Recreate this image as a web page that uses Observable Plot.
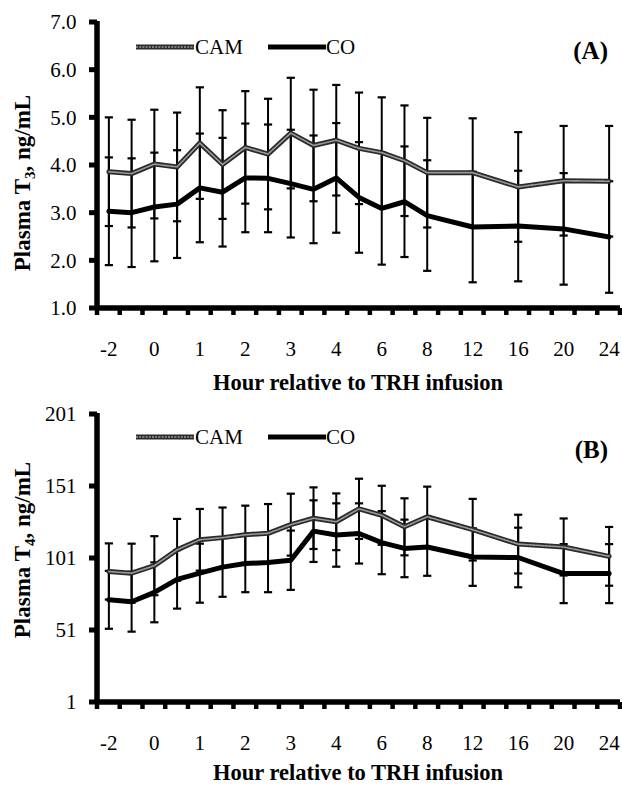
<!DOCTYPE html>
<html><head><meta charset="utf-8">
<script src="https://cdn.jsdelivr.net/npm/d3@7"></script>
<script src="https://cdn.jsdelivr.net/npm/@observablehq/plot@0.6"></script>
<style>
body{margin:0;background:#fff;}
#chart{width:622px;}
svg{display:block;overflow:visible;}
</style></head><body><div id="chart"></div>
<script>
// Category axis (hours relative to TRH infusion); every other category is labelled
const hours = ["-2","-1","0","0.5","1","1.5","2","2.5","3","3.5","4","5","6","7","8","10","12","14","16","18","20","22","24"];
const seriesNames = ["CAM", "CO"];

// Panel A: plasma T3 (ng/mL), mean and error (null = no sample)
const t3CAM    = [3.87,3.83,4.03,3.97,4.47,4.02,4.38,4.24,4.68,4.42,4.53,4.36,4.27,4.10,3.85,null,3.85,null,3.55,null,3.68,null,3.67];
const t3CO     = [3.04,3.01,3.13,3.19,3.53,3.44,3.74,3.73,3.62,3.50,3.74,3.33,3.10,3.24,2.95,null,2.71,null,2.73,null,2.67,null,2.50];
const t3CAMerr = [1.14,1.13,1.14,1.14,1.17,1.14,1.18,1.16,1.16,1.17,1.16,1.17,1.16,1.16,1.15,null,1.14,null,1.15,null,1.15,null,1.16];
const t3COerr  = [1.13,1.14,1.14,1.13,1.14,1.14,1.14,1.13,1.13,1.13,1.15,1.16,1.18,1.16,1.16,null,1.16,null,1.16,null,1.17,null,1.17];
const t3Ticks  = [1,2,3,4,5,6,7];

// Panel B: plasma T4 (ng/mL)
const t4CAM    = [92,90.8,96,107,114,115.5,117.5,118.5,124.5,129,126.5,135.5,131,123,130,null,121,null,111,null,109,null,102.5];
const t4CO     = [72.3,71,77.5,86.5,90.8,95,97.5,98.2,99.8,120,117.3,118.4,112,108,109,null,102,null,101.7,null,90.5,null,90.5];
const t4CAMerr = [19.5,20.5,20.5,21.5,21.4,20.9,20.2,20.3,21.5,21.4,19.7,20.9,20.5,19.8,20.9,null,21.4,null,20.4,null,19.8,null,20.4];
const t4COerr  = [20.1,20.8,20.8,20.3,20.5,20.6,19.9,20.6,20.6,21.4,22,20.9,21.9,20,20,null,20,null,20.7,null,20.5,null,20.5];
const t4Ticks  = [1,51,101,151,201];

const FONT = "'Liberation Serif','Times New Roman',serif";

function panel(cfg) {
  const rows = hours.map((h, i) => ({i, h, cam: cfg.cam[i], co: cfg.co[i], camErr: cfg.camErr[i], coErr: cfg.coErr[i]}))
                    .filter(d => d.cam != null);
  const bars = rows.flatMap(d => [{i: d.i, y: d.cam, e: d.camErr}, {i: d.i, y: d.co, e: d.coErr}]);
  const cap = 0.18;
  const y0 = cfg.ticks[0], y1 = cfg.ticks[cfg.ticks.length - 1];
  const xl = -0.5, xr = hours.length - 0.5;
  const chart = Plot.plot({
    width: 622, height: cfg.height,
    marginLeft: 97, marginRight: 2, marginTop: cfg.marginTop, marginBottom: cfg.marginBottom,
    style: {fontFamily: FONT, fontSize: "21px", color: "#000", background: "#fff", overflow: "visible"},
    x: {type: "linear", domain: [xl, xr]},
    y: {domain: [y0, y1]},
    marks: [
      // error bars
      Plot.link(bars, {x1: "i", x2: "i", y1: d => d.y - d.e, y2: d => d.y + d.e, stroke: "#000", strokeWidth: 2}),
      Plot.link(bars, {y1: d => d.y + d.e, y2: d => d.y + d.e, x1: d => d.i - cap, x2: d => d.i + cap, stroke: "#000", strokeWidth: 2.2}),
      Plot.link(bars, {y1: d => d.y - d.e, y2: d => d.y - d.e, x1: d => d.i - cap, x2: d => d.i + cap, stroke: "#000", strokeWidth: 2.2}),
      // series lines
      Plot.line(rows, {x: "i", y: "co", stroke: "#000", strokeWidth: 5, strokeLinejoin: "round"}),
      Plot.line(rows, {x: "i", y: "cam", stroke: "#2a2a2a", strokeWidth: 5, strokeLinejoin: "round"}),
      Plot.line(rows, {x: "i", y: "cam", stroke: "#9a9a9a", strokeWidth: 1.6, strokeDasharray: "2 1.2"}),
      Plot.axisY({ticks: cfg.ticks, tickFormat: cfg.format, tickSize: 0, tickPadding: 21, label: null}),
      Plot.axisX({ticks: d3.range(0, hours.length, 2), tickSize: 0, tickPadding: 33, tickFormat: i => hours[i], label: null})
    ]
  });
  const svg = d3.select(chart);
  const xs = chart.scale("x"), ys = chart.scale("y");
  // heavy axis lines and short outward ticks, positioned through the plot's scales
  const ax = svg.append("g").attr("stroke", "#000");
  const px0 = xs.apply(xl), px1 = xs.apply(xr), py0 = ys.apply(y0), py1 = ys.apply(y1);
  ax.append("line").attr("x1", px0).attr("x2", px0).attr("y1", py0 + 2).attr("y2", py1 - 1).attr("stroke-width", 5.5);
  ax.append("line").attr("x1", px0 - 2).attr("x2", px1).attr("y1", py0).attr("y2", py0).attr("stroke-width", 5.5);
  cfg.ticks.forEach(t => {
    const y = ys.apply(t);
    ax.append("line").attr("x1", px0 - 8).attr("x2", px0).attr("y1", y).attr("y2", y).attr("stroke-width", 5);
  });
  d3.range(xl, xr + 0.01, 1).forEach(v => {
    const x = xs.apply(v);
    ax.append("line").attr("x1", x).attr("x2", x).attr("y1", py0).attr("y2", py0 + 7).attr("stroke-width", 4.5);
  });
  // y-axis title with subscript
  const yt = svg.append("text")
    .attr("transform", `translate(30,${cfg.yTitleY}) rotate(-90)`)
    .attr("text-anchor", "middle").attr("font-family", FONT).attr("font-weight", "bold").attr("font-size", 23).attr("fill", "#000");
  yt.append("tspan").text("Plasma T");
  yt.append("tspan").attr("font-size", 15).attr("dy", 5).text(cfg.sub);
  yt.append("tspan").attr("dy", -5).text(", ng/mL");
  // x-axis title
  svg.append("text").attr("x", 358).attr("y", cfg.xTitleY)
    .attr("text-anchor", "middle").attr("font-family", FONT).attr("font-weight", "bold").attr("font-size", 22.5).attr("fill", "#000")
    .text("Hour relative to TRH infusion");
  // legend
  const ly = cfg.legendY;
  const lg = svg.append("g").attr("font-family", FONT).attr("font-size", 21).attr("fill", "#000").attr("text-anchor", "start");
  lg.append("line").attr("x1", 136).attr("x2", 194).attr("y1", ly).attr("y2", ly).attr("stroke", "#2a2a2a").attr("stroke-width", 5);
  lg.append("line").attr("x1", 136).attr("x2", 194).attr("y1", ly).attr("y2", ly).attr("stroke", "#9a9a9a").attr("stroke-width", 1.6).attr("stroke-dasharray", "2 1.2");
  lg.append("text").attr("x", 195).attr("y", ly + 7).text(seriesNames[0]);
  lg.append("line").attr("x1", 268).attr("x2", 326).attr("y1", ly).attr("y2", ly).attr("stroke", "#000").attr("stroke-width", 5);
  lg.append("text").attr("x", 326).attr("y", ly + 7).text(seriesNames[1]);
  // panel tag
  svg.append("text").attr("x", 608).attr("y", cfg.tagY).attr("text-anchor", "end")
    .attr("font-family", FONT).attr("font-weight", "bold").attr("font-size", 25).attr("fill", "#000").text(cfg.tag);
  return chart;
}

const root = document.getElementById("chart");
root.appendChild(panel({
  cam: t3CAM, co: t3CO, camErr: t3CAMerr, coErr: t3COerr, ticks: t3Ticks, format: d3.format(".1f"), sub: "3",
  height: 395, marginTop: 22, marginBottom: 87, yTitleY: 183, xTitleY: 390, legendY: 47, tagY: 59, tag: "(A)"
}));
root.appendChild(panel({
  cam: t4CAM, co: t4CO, camErr: t4CAMerr, coErr: t4COerr, ticks: t4Ticks, format: d => String(d), sub: "4",
  height: 390, marginTop: 19, marginBottom: 83, yTitleY: 155, xTitleY: 385, legendY: 42, tagY: 63, tag: "(B)"
}));
</script>
</body></html>
